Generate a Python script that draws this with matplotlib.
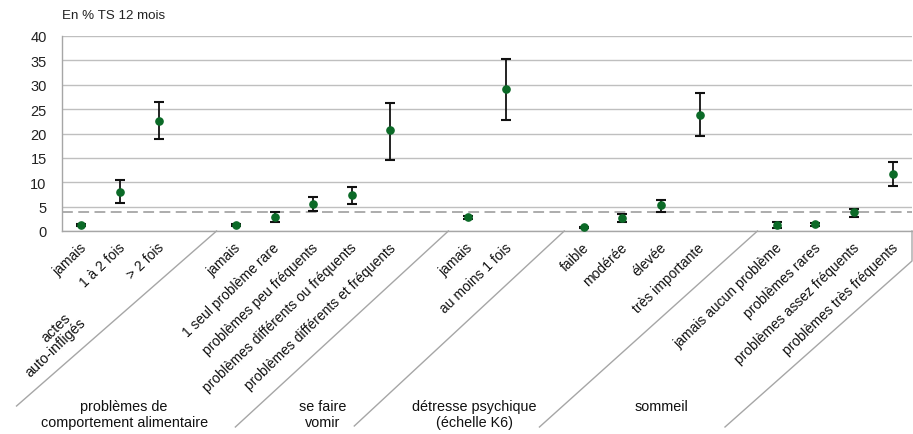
import matplotlib
matplotlib.use("Agg")
import matplotlib.pyplot as plt
from matplotlib.lines import Line2D

plt.rcParams['font.family'] = ['Liberation Sans', 'DejaVu Sans']

# ---------------- data ----------------
group_names = ["actes\nauto-infligés", "problèmes de\ncomportement alimentaire", "se faire\nvomir",
               "détresse psychique\n(échelle K6)", "sommeil"]

labels_actes = ["jamais", "1 à 2 fois", "> 2 fois"]
val_actes = [1.3, 8.1, 22.6]
low_actes = [1.1, 5.8, 18.9]
high_actes = [1.5, 10.5, 26.5]

labels_alim = ["jamais", "1 seul problème rare", "problèmes peu fréquents",
               "problèmes différents ou fréquents", "problèmes différents et fréquents"]
val_alim = [1.3, 2.8, 5.6, 7.3, 20.7]
low_alim = [1.1, 1.8, 4.1, 5.5, 14.6]
high_alim = [1.5, 4.0, 7.0, 9.1, 26.3]

labels_vomir = ["jamais", "au moins 1 fois"]
val_vomir = [2.8, 29.2]
low_vomir = [2.5, 22.8]
high_vomir = [3.1, 35.3]

labels_k6 = ["faible", "modérée", "élevée", "très importante"]
val_k6 = [0.75, 2.7, 5.3, 23.8]
low_k6 = [0.6, 1.9, 3.8, 19.5]
high_k6 = [0.9, 3.4, 6.4, 28.4]

labels_sommeil = ["jamais aucun problème", "problèmes rares", "problèmes assez fréquents",
                  "problèmes très fréquents"]
val_sommeil = [1.3, 1.4, 4.0, 11.6]
low_sommeil = [0.7, 1.1, 2.9, 9.3]
high_sommeil = [1.9, 1.7, 4.5, 14.2]

reference = 4.0
y_ticks = [0, 5, 10, 15, 20, 25, 30, 35, 40]
unit_label = "En % TS 12 mois"

groups = [
    (labels_actes, val_actes, low_actes, high_actes),
    (labels_alim, val_alim, low_alim, high_alim),
    (labels_vomir, val_vomir, low_vomir, high_vomir),
    (labels_k6, val_k6, low_k6, high_k6),
    (labels_sommeil, val_sommeil, low_sommeil, high_sommeil),
]

# --------------- build slots (one empty slot between groups) ---------------
xs, ys, lo, hi, labs = [], [], [], [], []
group_slots = []
boundaries = []
pos = 0
for gi, (lb, v, l, h) in enumerate(groups):
    start = pos
    for k in range(len(lb)):
        xs.append(pos); ys.append(v[k]); lo.append(v[k] - l[k]); hi.append(h[k] - v[k]); labs.append(lb[k])
        pos += 1
    group_slots.append((start, pos - 1))
    if gi < len(groups) - 1:
        pos += 1  # blank slot
        boundaries.append(pos - 0.5)
n_slots = pos
boundaries.append(n_slots - 0.5)

# --------------- figure ---------------
W, H = 913, 435
fig = plt.figure(figsize=(W / 100, H / 100), dpi=100)
ax = fig.add_axes([62 / W, 1 - 232 / H, (912 - 62) / W, (232 - 37) / H])

ax.set_xlim(-0.5, n_slots - 0.5)
ax.set_ylim(0, 40)
ax.set_yticks(y_ticks)
ax.set_yticklabels([str(t) for t in y_ticks], fontsize=10.5, color='#222222')
ax.tick_params(axis='y', length=0, pad=11)
ax.set_xticks([])
ax.yaxis.grid(True, color='#bfbfbf', linewidth=1.0)
ax.set_axisbelow(True)
for s in ['top', 'right']:
    ax.spines[s].set_visible(False)
for s in ['left', 'bottom']:
    ax.spines[s].set_color('#a6a6a6')
    ax.spines[s].set_linewidth(1.0)

ax.axhline(reference, color='#a6a6a6', linestyle=(0, (6, 3)), linewidth=1.3, zorder=1.5)

ax.errorbar(xs, ys, yerr=[lo, hi], fmt='o', color='#0b6a27', markersize=5.2,
            ecolor='#111111', elinewidth=1.3, capsize=3.6, capthick=1.5, zorder=3)

# category labels (rotated)
for x, t in zip(xs, labs):
    ax.annotate(t, xy=(x, 0), xycoords='data', xytext=(3, -14), textcoords='offset pixels',
                rotation=44, ha='right', va='center', rotation_mode='anchor',
                fontsize=10, color='#111111', annotation_clip=False)

# group labels
x0f = ax.get_position().x0
wf = ax.get_position().width
def xfig(b):
    return x0f + (b + 0.5) / n_slots * wf

y_axis_px = 232
# first group: two rotated lines
c0 = (group_slots[0][0] + group_slots[0][1]) / 2
for line, dy in zip(group_names[0].split("\n"), [-96, -116]):
    ax.annotate(line, xy=(c0, 0), xycoords='data', xytext=(-64, dy), textcoords='offset pixels',
                rotation=44, ha='center', va='center', rotation_mode='anchor',
                fontsize=10.4, color='#111111', annotation_clip=False)

label_dx = [0, -189, -164, -167, -173]
for gi in range(1, len(group_names)):
    a, b = group_slots[gi]
    c = (a + b) / 2
    ax.annotate(group_names[gi], xy=(c, 0), xycoords='data', xytext=(label_dx[gi], -168),
                textcoords='offset pixels', ha='center', va='top', multialignment='center',
                fontsize=10.4, color='#111111', linespacing=1.15, annotation_clip=False)

# skewed separators
sep_len = [(-200, 175), (-213, 196), (-210, 195), (-218, 196)]
for b, (dx, dy) in zip(boundaries[:-1], sep_len):
    xs0 = xfig(b)
    fig.add_artist(Line2D([xs0, xs0 + dx / W], [1 - y_axis_px / H, 1 - (y_axis_px + dy) / H],
                          transform=fig.transFigure, color='#a6a6a6', linewidth=1.0))
xr = xfig(boundaries[-1])
fig.add_artist(Line2D([xr, xr, xr - 187 / W], [1 - y_axis_px / H, 1 - 262 / H, 1 - 428 / H],
                      transform=fig.transFigure, color='#a6a6a6', linewidth=1.0))

fig.text(62 / W, 1 - 16 / H, unit_label, ha='left', va='center', fontsize=9.6, color='#222222')

fig.savefig("out.png", dpi=100)
